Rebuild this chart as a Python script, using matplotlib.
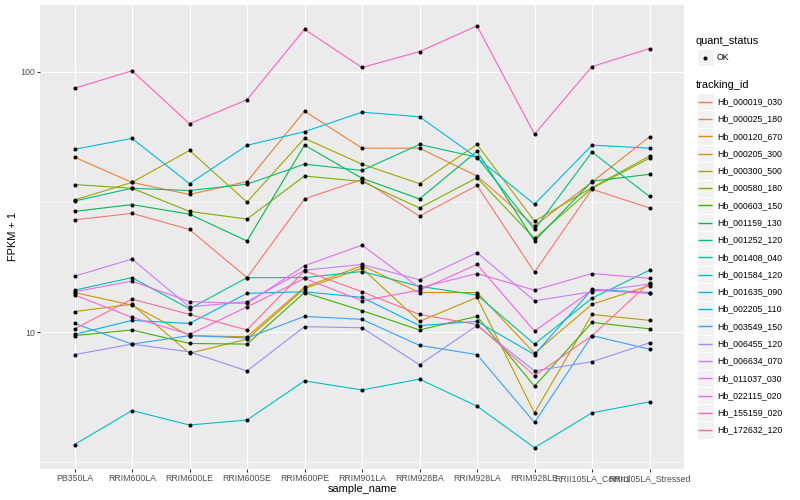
import matplotlib
matplotlib.use('Agg')
import matplotlib.pyplot as plt
from matplotlib.patches import Rectangle
from matplotlib.ticker import FixedLocator, NullFormatter
import numpy as np

plt.rcParams['font.family'] = ['Liberation Sans', 'DejaVu Sans']

# samples on the x axis
samples = ['PB350LA', 'RRIM600LA', 'RRIM600LE', 'RRIM600SE', 'RRIM600PE',
           'RRIM901LA', 'RRIM928BA', 'RRIM928LA', 'RRIM928LE',
           'RRII105LA_Control', 'RRII105LA_Stressed']

tracking_ids = ['Hb_000019_030', 'Hb_000025_180', 'Hb_000120_670', 'Hb_000205_300',
                'Hb_000300_500', 'Hb_000580_180', 'Hb_000603_150', 'Hb_001159_130',
                'Hb_001252_120', 'Hb_001408_040', 'Hb_001584_120', 'Hb_001635_090',
                'Hb_002205_110', 'Hb_003549_150', 'Hb_006455_120', 'Hb_006634_070',
                'Hb_011037_030', 'Hb_022115_020', 'Hb_155159_020', 'Hb_172632_120']

# FPKM + 1 per gene, one value per sample
hb_000019_030 = [27.0, 28.6, 24.8, 16.2, 32.5, 38.6, 27.9, 36.6, 17.0, 35.4, 30.0]
hb_000025_180 = [47.0, 37.6, 33.8, 37.9, 70.6, 50.9, 50.9, 39.8, 25.6, 37.7, 56.3]
hb_000120_670 = [14.2, 12.7, 9.7, 9.6, 14.9, 18.0, 14.2, 14.2, 8.3, 12.8, 15.1]
hb_000205_300 = [12.0, 12.8, 8.3, 9.4, 14.7, 17.6, 11.0, 13.6, 4.9, 11.7, 11.1]
hb_000300_500 = [32.2, 37.6, 49.9, 31.6, 55.5, 44.2, 37.2, 52.6, 26.7, 35.9, 47.5]
hb_000580_180 = [36.9, 35.7, 29.1, 27.2, 39.8, 37.9, 30.0, 39.2, 22.9, 35.7, 46.6]
hb_000603_150 = [9.7, 10.2, 9.05, 9.0, 14.2, 12.1, 10.2, 11.5, 6.2, 10.9, 10.3]
hb_001159_130 = [29.1, 30.9, 28.4, 22.4, 52.3, 39.0, 32.5, 49.5, 22.4, 38.0, 40.4]
hb_001252_120 = [31.9, 35.7, 35.0, 37.0, 44.2, 41.8, 52.6, 47.0, 24.8, 49.2, 33.2]
hb_001408_040 = [14.5, 16.2, 12.3, 16.2, 16.2, 17.1, 15.0, 13.9, 9.0, 13.5, 17.3]
hb_001584_120 = [3.7, 5.0, 4.4, 4.6, 6.5, 6.0, 6.6, 5.2, 3.6, 4.9, 5.4]
hb_001635_090 = [50.4, 55.5, 37.2, 52.2, 58.9, 70.0, 67.2, 46.8, 31.0, 52.3, 50.9]
hb_002205_110 = [9.8, 11.1, 10.8, 14.1, 14.3, 13.6, 10.6, 11.0, 8.2, 14.6, 14.2]
hb_003549_150 = [10.8, 9.0, 9.7, 9.5, 11.5, 11.2, 8.9, 8.2, 4.5, 9.7, 8.6]
hb_006455_120 = [8.2, 9.0, 8.4, 7.1, 10.5, 10.4, 7.5, 10.6, 7.1, 7.7, 9.1]
hb_006634_070 = [16.4, 19.1, 12.5, 13.1, 17.3, 18.2, 15.9, 20.2, 13.2, 14.3, 15.3]
hb_011037_030 = [14.3, 15.7, 13.1, 12.9, 18.0, 21.6, 14.8, 16.8, 14.5, 16.8, 16.1]
hb_022115_020 = [13.9, 11.4, 9.8, 12.5, 16.1, 13.2, 14.5, 18.2, 10.1, 14.5, 14.1]
hb_155159_020 = [86.5, 100.9, 63.2, 78.1, 145.7, 103.9, 119.6, 150.1, 57.6, 104.8, 122.8]
hb_172632_120 = [10.3, 13.4, 11.7, 10.2, 17.2, 14.3, 11.7, 10.7, 6.8, 9.7, 15.5]

fpkm = [hb_000019_030, hb_000025_180, hb_000120_670, hb_000205_300, hb_000300_500,
        hb_000580_180, hb_000603_150, hb_001159_130, hb_001252_120, hb_001408_040,
        hb_001584_120, hb_001635_090, hb_002205_110, hb_003549_150, hb_006455_120,
        hb_006634_070, hb_011037_030, hb_022115_020, hb_155159_020, hb_172632_120]

# ggplot2 default hue palette, 20 levels
palette = ['#F8766D', '#EA8331', '#D89000', '#C09B00', '#A3A500', '#7CAE00', '#39B600',
           '#00BB4E', '#00BF7D', '#00C1A3', '#00BFC4', '#00BAE0', '#00B0F6', '#35A2FF',
           '#9590FF', '#C77CFF', '#E76BF3', '#FA62DB', '#FF62BC', '#FF6C91']

W, H = 800, 500
fig = plt.figure(figsize=(8, 5), dpi=100)
ax = fig.add_axes([40 / W, 1 - 468.8 / H, 644 / W, 464 / H])
ax.set_facecolor('#EBEBEB')

x = np.arange(len(samples))
for vals, col in zip(fpkm, palette):
    ax.plot(x, vals, color=col, lw=0.8, zorder=3)
for vals in fpkm:
    ax.plot(x, vals, 'o', color='black', ms=2.9, mew=0, zorder=4)

ax.set_yscale('log')
logs = np.log10(np.concatenate([np.asarray(v) for v in fpkm]))
lo, hi = logs.min(), logs.max()
pad = 0.05 * (hi - lo)
ax.set_ylim(10 ** (lo - pad), 10 ** (hi + pad))
ax.set_xlim(-0.6, len(samples) - 0.4)

ax.set_xticks(x)
ax.set_xticklabels(samples)
ax.set_yticks([10, 100])
ax.set_yticklabels(['10', '100'])
ax.yaxis.set_minor_locator(FixedLocator([10 ** 0.5, 10 ** 1.5, 10 ** 2.5]))
ax.yaxis.set_minor_formatter(NullFormatter())
ax.xaxis.set_minor_locator(FixedLocator([]))

ax.grid(which='major', color='white', lw=0.8)
ax.grid(which='minor', axis='y', color='white', lw=0.4)
ax.set_axisbelow(True)
for s in ax.spines.values():
    s.set_visible(False)
ax.tick_params(which='major', length=2, width=0.8, color='#333333',
               labelcolor='#4D4D4D', labelsize=6.3, pad=1.6)
ax.tick_params(which='minor', length=0)

ax.set_xlabel('sample_name', fontsize=7.9, labelpad=1)
ax.set_ylabel('FPKM + 1', fontsize=7.9, labelpad=1.5)

# legends drawn in pixel coordinates
lax = fig.add_axes([0, 0, 1, 1], facecolor='none')
lax.set_xlim(0, W)
lax.set_ylim(H, 0)
lax.axis('off')

key = 17.28
kx = 696.5
lax.text(kx - 0.5, 40.5, 'quant_status', fontsize=7.9, va='center', ha='left')
lax.add_patch(Rectangle((kx, 57.5 - key / 2), key, key, facecolor='#F2F2F2',
                        edgecolor='white', lw=0.8, zorder=1))
lax.plot([kx + key / 2], [57.5], 'o', color='black', ms=2.9, mew=0, zorder=3)
lax.text(kx + key + 3, 57.5, 'OK', fontsize=6.3, va='center', ha='left')

lax.text(kx - 0.5, 85.5, 'tracking_id', fontsize=7.9, va='center', ha='left')
for i, (tid, col) in enumerate(zip(tracking_ids, palette)):
    cy = 101.8 + i * key
    lax.add_patch(Rectangle((kx, cy - key / 2), key, key, facecolor='#F2F2F2',
                            edgecolor='white', lw=0.8, zorder=1))
    lax.plot([kx + 1.7, kx + key - 1.7], [cy, cy], color=col, lw=1.0, zorder=3,
             solid_capstyle='butt')
    lax.text(kx + key + 3, cy, tid, fontsize=6.3, va='center', ha='left')

fig.savefig('out.png', dpi=100)
